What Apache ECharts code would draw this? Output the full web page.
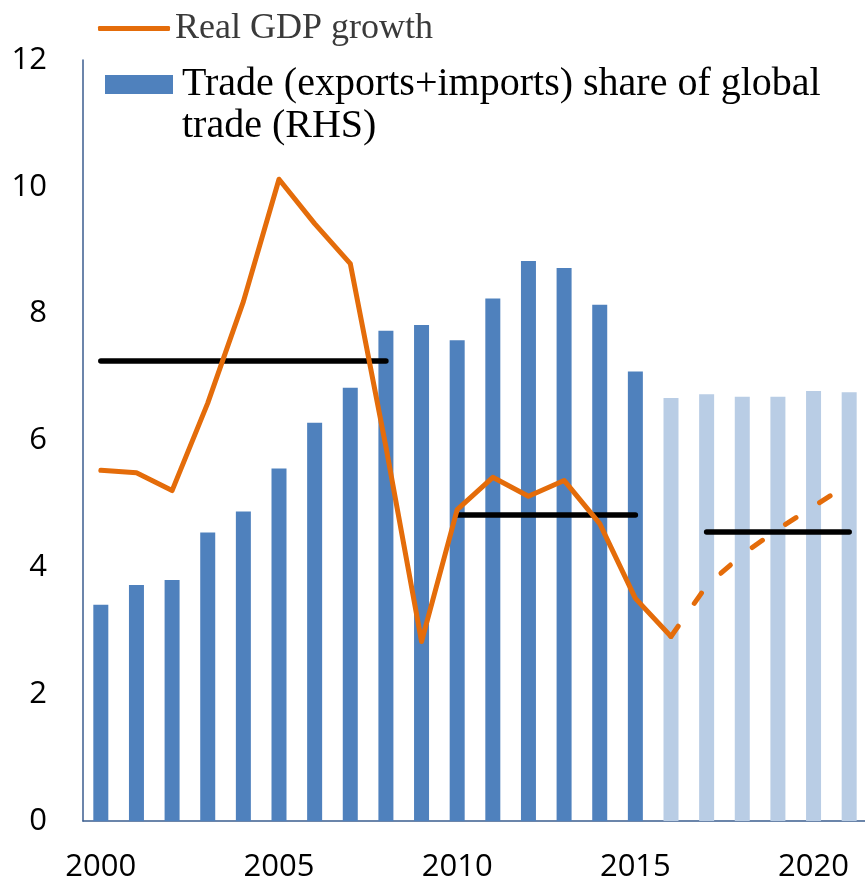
<!DOCTYPE html>
<html><head><meta charset="utf-8">
<script src="https://cdn.jsdelivr.net/npm/echarts@6/dist/echarts.min.js"></script>
<style>html,body{margin:0;padding:0;background:#fff}#c{width:865px;height:885px}</style>
</head><body><div id="c"></div>
<script>
// ---- data ----
const years = ['2000','2001','2002','2003','2004','2005','2006','2007','2008','2009','2010',
               '2011','2012','2013','2014','2015','2016','2017','2018','2019','2020','2021'];
const shownYears = ['2000','2005','2010','2015','2020'];
const yTicks = [0, 2, 4, 6, 8, 10, 12];
const tradeShare = [3.41,3.72,3.80,4.55,4.88,5.56,6.28,6.83,7.73,7.82,7.58,
                    8.24,8.83,8.72,8.14,7.09,6.67,6.73,6.69,6.69,6.78,6.76];
const projectionStart = '2016';
const gdpActualYears = ['2000','2001','2002','2003','2004','2005','2006','2007','2008',
                        '2009','2010','2011','2012','2013','2014','2015','2016'];
const gdpActual = [5.53,5.49,5.21,6.59,8.19,10.12,9.42,8.79,5.90,2.83,4.91,5.42,5.12,5.37,4.69,3.51,2.91];
const gdpProjYears = ['2016','2017','2018','2019','2020','2021'];
const gdpProjection = [2.91,3.71,4.20,4.60,4.96,5.32];
const avgPeriods = [['2000','2008'],['2010','2015'],['2017','2021']];
const avgValues = [7.25, 4.83, 4.56];

const gdpName = 'Real GDP growth';
const tradeName = 'Trade (exports+imports) share of global trade (RHS)';
const ORANGE = '#E46C0A', BLUE = '#4F81BD', LIGHT = '#B9CDE5', AXIS = '#3B5D8F';

const projIdx = years.indexOf(projectionStart);
const barData = tradeShare.map((v, i) => ({
  value: v,
  itemStyle: { color: i >= projIdx ? LIGHT : BLUE }
}));

const chart = echarts.init(document.getElementById('c'), null, { renderer: 'canvas' });
chart.setOption({
  animation: false,
  backgroundColor: '#fff',
  legend: [
    {
      data: [{ name: gdpName, icon: 'roundRect', itemStyle: { color: ORANGE } }],
      left: 98, top: 10.5, padding: 0,
      itemWidth: 72, itemHeight: 5,
      selectedMode: false,
      textStyle: { fontFamily: 'Liberation Serif', fontSize: 36, lineHeight: 36, color: '#3a3a3a' }
    },
    {
      data: [{ name: tradeName, icon: 'rect', itemStyle: { color: BLUE } }],
      formatter: () => '\nTrade (exports+imports) share of global\ntrade (RHS)',
      left: 105, top: 22.25, padding: 0,
      itemWidth: 68, itemHeight: 19,
      selectedMode: false,
      textStyle: { fontFamily: 'Liberation Serif', fontSize: 40, lineHeight: 41.5, color: '#000', padding: [0, 0, 0, 4] }
    }
  ],
  grid: { left: 83, right: -2, top: 60, bottom: 64, containLabel: false, outerBoundsMode: 'none' },
  xAxis: {
    type: 'category', data: years, boundaryGap: true,
    axisLine: { show: true, lineStyle: { color: AXIS, width: 1.5 } },
    axisTick: { show: false },
    splitLine: { show: false },
    axisLabel: {
      interval: (i, v) => shownYears.includes(v),
      fontFamily: 'Open Sans', fontSize: 31, color: '#000', margin: 31
    }
  },
  yAxis: {
    type: 'value', min: yTicks[0], max: yTicks[yTicks.length - 1], interval: yTicks[1] - yTicks[0],
    axisLine: { show: true, lineStyle: { color: AXIS, width: 1.5 } },
    axisTick: { show: false },
    splitLine: { show: false },
    axisLabel: { fontFamily: 'Open Sans', fontSize: 31, color: '#000', margin: 36 }
  },
  series: [
    {
      name: tradeName, type: 'bar', z: 1,
      barWidth: 15,
      itemStyle: { color: BLUE },
      data: barData,
      emphasis: { disabled: true },
      markLine: {
        silent: true, z: 5,
        symbol: ['none', 'none'],
        label: { show: false },
        emphasis: { disabled: true },
        lineStyle: { color: '#000', width: 5.5, type: 'solid', cap: 'round' },
        data: avgPeriods.map((p, i) => [
          { coord: [p[0], avgValues[i]] },
          { coord: [p[1], avgValues[i]] }
        ])
      }
    },
    {
      name: gdpName, type: 'line', z: 10,
      showSymbol: false, symbol: 'none',
      itemStyle: { color: ORANGE },
      lineStyle: { color: ORANGE, width: 5, cap: 'round', join: 'round' },
      emphasis: { disabled: true },
      data: gdpActualYears.map((y, i) => [y, gdpActual[i]])
    },
    {
      name: gdpName, type: 'line', z: 10,
      showSymbol: false, symbol: 'none',
      itemStyle: { color: ORANGE },
      lineStyle: { color: ORANGE, width: 5, type: [12.5, 28], cap: 'round', join: 'round' },
      emphasis: { disabled: true },
      data: gdpProjYears.map((y, i) => [y, gdpProjection[i]])
    }
  ]
});
</script></body></html>
